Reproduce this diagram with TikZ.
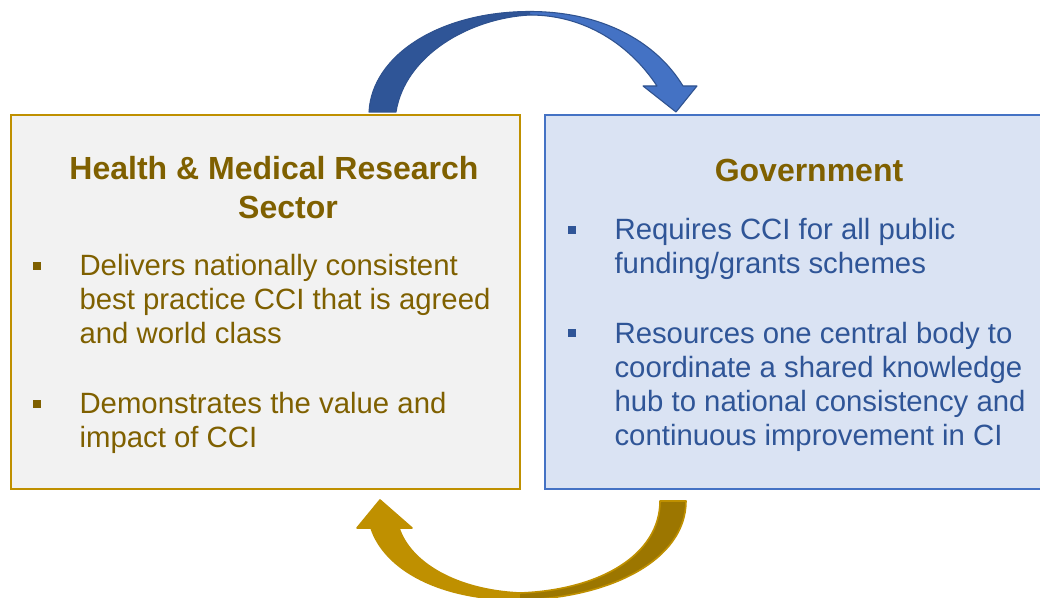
\documentclass[tikz,border=0pt]{standalone}
\usepackage{fontspec}
\setmainfont{Liberation Sans}
\definecolor{gold}{HTML}{BF9000}
\definecolor{darkgold}{HTML}{7F6000}
\definecolor{shadegold}{HTML}{9C7600}
\definecolor{blueA}{HTML}{4472C4}
\definecolor{blueB}{HTML}{2F5597}
\definecolor{blueline}{HTML}{2F528F}
\definecolor{lightblue}{HTML}{DAE3F3}
\definecolor{lightgray}{HTML}{F2F2F2}
\begin{document}
\begin{tikzpicture}[x=0.75pt,y=-0.75pt,
  panel/.style={line width=1.5pt, inner sep=0pt, anchor=north west, rectangle},
  ttl/.style={font=\fontsize{24}{28}\selectfont\bfseries, text=darkgold, anchor=base, inner sep=0pt},
  bodyL/.style={font=\fontsize{22}{26}\selectfont, text=darkgold, anchor=base west, inner sep=0pt},
  bodyR/.style={font=\fontsize{22}{26}\selectfont, text=blueB, anchor=base west, inner sep=0pt},
  bulL/.style={rectangle, fill=darkgold, minimum size=6pt, inner sep=0pt},
  bulR/.style={rectangle, fill=blueB, minimum size=6pt, inner sep=0pt}]
\clip (0,0) rectangle (1040,598);
\fill[white] (0,0) rectangle (1040,598);

% boxes
\node[panel, draw=gold, fill=lightgray, minimum width=381.75pt, minimum height=280.5pt] (hmr) at (10,114) {};
\node[panel, draw=blueA, fill=lightblue, minimum width=378pt, minimum height=280.5pt] (gov) at (544,114) {};

% top arrow
\fill[blueA] (369,112) .. controls (372,55) and (440,11.5) .. (530,11.5)
  .. controls (600,11.5) and (655,40) .. (683,86) -- (697,86) -- (676,112) -- (643,86) -- (657,86)
  .. controls (630,45) and (585,15) .. (530,15) .. controls (470,18) and (405,55) .. (396,112) -- cycle;
\begin{scope}
\clip (300,0) rectangle (530,130);
\fill[blueB] (369,112) .. controls (372,55) and (440,11.5) .. (530,11.5)
  .. controls (600,11.5) and (655,40) .. (683,86) -- (697,86) -- (676,112) -- (643,86) -- (657,86)
  .. controls (630,45) and (585,15) .. (530,15) .. controls (470,18) and (405,55) .. (396,112) -- cycle;
\end{scope}
\draw[blueline, line width=0.8pt, line join=round] (369,112) .. controls (372,55) and (440,11.5) .. (530,11.5)
  .. controls (600,11.5) and (655,40) .. (683,86) -- (697,86) -- (676,112) -- (643,86) -- (657,86)
  .. controls (630,45) and (585,15) .. (530,15) .. controls (470,18) and (405,55) .. (396,112) -- cycle;

% bottom arrow
\fill[gold] (686,501) .. controls (686,560) and (610,598) .. (520,600)
  .. controls (440,600) and (385,570) .. (371,528) -- (357,528) -- (380,500) -- (412,528) -- (399,528)
  .. controls (410,562) and (455,590) .. (520,593) .. controls (600,590) and (660,555) .. (660,501) -- cycle;
\begin{scope}
\clip (520,480) rectangle (720,610);
\fill[shadegold] (686,501) .. controls (686,560) and (610,598) .. (520,600)
  .. controls (440,600) and (385,570) .. (371,528) -- (357,528) -- (380,500) -- (412,528) -- (399,528)
  .. controls (410,562) and (455,590) .. (520,593) .. controls (600,590) and (660,555) .. (660,501) -- cycle;
\end{scope}
\draw[gold, line width=1.2pt, line join=round] (686,501) .. controls (686,560) and (610,598) .. (520,600)
  .. controls (440,600) and (385,570) .. (371,528) -- (357,528) -- (380,500) -- (412,528) -- (399,528)
  .. controls (410,562) and (455,590) .. (520,593) .. controls (600,590) and (660,555) .. (660,501) -- cycle;

% left texts
\node[ttl] (t1a) at (274,180) {Health \& Medical Research};
\node[ttl] (t1b) at (288,218.3) {Sector};
\node[bulL] (b1) at (36.5,266) {};
\node[bodyL] (l1) at (79.3,276) {Delivers nationally consistent};
\node[bodyL] (l2) at (79.3,310) {best practice CCI that is agreed};
\node[bodyL] (l3) at (79.3,344) {and world class};
\node[bulL] (b2) at (36.5,404) {};
\node[bodyL] (l4) at (79.3,413.5) {Demonstrates the value and};
\node[bodyL] (l5) at (79.3,447.5) {impact of CCI};

% right texts
\node[ttl] (t2) at (809,181.7) {Government};
\node[bulR] (b3) at (571.5,230.5) {};
\node[bodyR] (r1) at (614.3,239.3) {Requires CCI for all public};
\node[bodyR] (r2) at (614.3,273.3) {funding/grants schemes};
\node[bulR] (b4) at (571.5,333.5) {};
\node[bodyR] (r3) at (614.3,343.3) {Resources one central body to};
\node[bodyR] (r4) at (614.3,377.3) {coordinate a shared knowledge};
\node[bodyR] (r5) at (614.3,411.3) {hub to national consistency and};
\node[bodyR] (r6) at (614.3,445.3) {continuous improvement in CI};
\end{tikzpicture}
\end{document}
